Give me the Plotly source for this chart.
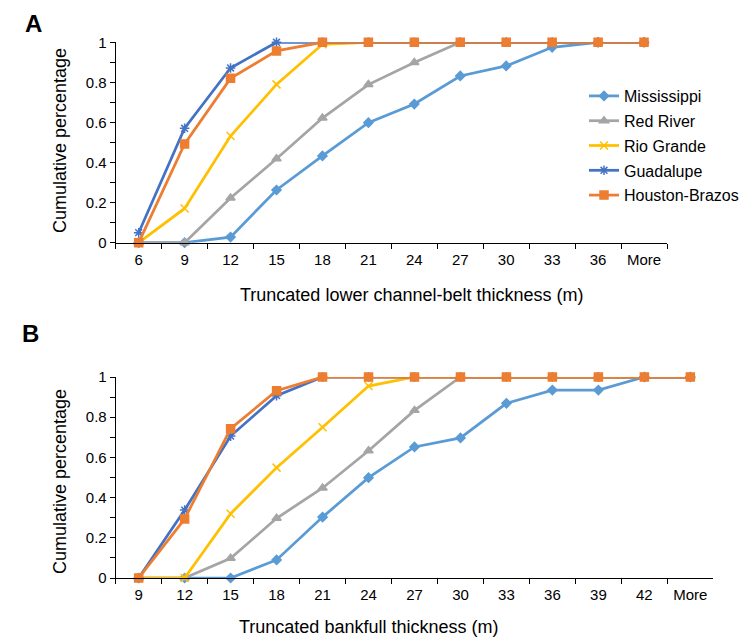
import plotly.graph_objects as go

W, H = 741, 638

cats_a = ["6", "9", "12", "15", "18", "21", "24", "27", "30", "33", "36", "More"]
cats_b = ["9", "12", "15", "18", "21", "24", "27", "30", "33", "36", "39", "42", "More"]

series_names = ["Mississippi", "Red River", "Rio Grande", "Guadalupe", "Houston-Brazos"]

a_mississippi = [0, 0, 0.028, 0.263, 0.433, 0.599, 0.692, 0.832, 0.882, 0.975, 1, 1]
a_red_river = [0, 0, 0.223, 0.419, 0.622, 0.789, 0.899, 1, 1, 1, 1, 1]
a_rio_grande = [0, 0.171, 0.532, 0.79, 0.99, 1, 1, 1, 1, 1, 1, 1]
a_guadalupe = [0.05, 0.571, 0.872, 1, 1, 1, 1, 1, 1, 1, 1, 1]
a_houston = [0, 0.493, 0.82, 0.957, 1, 1, 1, 1, 1, 1, 1, 1]

b_mississippi = [0, 0, 0, 0.09, 0.303, 0.499, 0.652, 0.697, 0.869, 0.935, 0.935, 1, 1]
b_red_river = [0, 0, 0.098, 0.297, 0.448, 0.633, 0.834, 1, 1, 1, 1, 1, 1]
b_rio_grande = [0, 0, 0.32, 0.549, 0.75, 0.955, 1, 1, 1, 1, 1, 1, 1]
b_guadalupe = [0, 0.338, 0.706, 0.907, 1, 1, 1, 1, 1, 1, 1, 1, 1]
b_houston = [0, 0.294, 0.743, 0.932, 1, 1, 1, 1, 1, 1, 1, 1, 1]

colors = ["#5B9BD5", "#A5A5A5", "#FFC000", "#4472C4", "#ED7D31"]
symbols = ["diamond", "triangle-up", "x-thin-open", "asterisk-open", "square"]
msizes = [7, 8, 8, 8, 8]

a_data = [a_mississippi, a_red_river, a_rio_grande, a_guadalupe, a_houston]
b_data = [b_mississippi, b_red_river, b_rio_grande, b_guadalupe, b_houston]

FONT = "Liberation Sans, Arial, sans-serif"

fig = go.Figure()
for i, name in enumerate(series_names):
    mk = dict(symbol=symbols[i], size=msizes[i], color=colors[i],
              line=dict(color=colors[i], width=1.5))
    fig.add_trace(go.Scatter(x=cats_a, y=a_data[i], name=name, mode="lines+markers",
                             line=dict(color=colors[i], width=2.75), marker=mk,
                             xaxis="x", yaxis="y", cliponaxis=False,
                             legendgroup=name, showlegend=True))
for i, name in enumerate(series_names):
    mk = dict(symbol=symbols[i], size=msizes[i], color=colors[i],
              line=dict(color=colors[i], width=1.5))
    fig.add_trace(go.Scatter(x=cats_b, y=b_data[i], name=name, mode="lines+markers",
                             line=dict(color=colors[i], width=2.75), marker=mk,
                             xaxis="x2", yaxis="y2", cliponaxis=False,
                             legendgroup=name, showlegend=False))

xl = 115.7 / W
ya_top, ya_bot = 1 - 42.3 / H, 1 - 242.7 / H
yb_top, yb_bot = 1 - 377 / H, 1 - 578 / H

xcommon = dict(type="category", showline=True, linecolor="black", linewidth=1,
               ticks="outside", ticklen=5, tickcolor="black", tickson="boundaries",
               showgrid=False, zeroline=False, automargin=False, ticklabelstandoff=3,
               tickfont=dict(size=15, color="black"))
ycommon = dict(range=[0, 1], dtick=0.2, showline=True, linecolor="black", linewidth=1,
               ticks="outside", ticklen=5, tickcolor="black", showgrid=False,
               zeroline=False, automargin=False, tickfont=dict(size=15, color="black"),
               minor=dict(dtick=0.1, ticks="outside", ticklen=5, tickcolor="black"))

fig.update_layout(
    width=W, height=H,
    margin=dict(l=0, r=0, t=0, b=0, autoexpand=False),
    paper_bgcolor="white", plot_bgcolor="white",
    font=dict(family=FONT, color="black"),
    xaxis=dict(domain=[xl, 667 / W], anchor="y", range=[-0.5, 11.5], **xcommon),
    yaxis=dict(domain=[ya_bot, ya_top], anchor="x", **ycommon),
    xaxis2=dict(domain=[xl, 713.3 / W], anchor="y2", range=[-0.5, 12.5], **xcommon),
    yaxis2=dict(domain=[yb_bot, yb_top], anchor="x2", **ycommon),
    legend=dict(x=584 / W, y=1 - 79 / H, xanchor="left", yanchor="top",
                font=dict(size=16, color="black"), bgcolor="rgba(0,0,0,0)",
                tracegroupgap=1, itemwidth=30),
    showlegend=True,
)

ann = [
    dict(text="<b>A</b>", x=23 / W, y=1 - 23 / H, xanchor="left", yanchor="middle", font=dict(size=24)),
    dict(text="<b>B</b>", x=20 / W, y=1 - 333 / H, xanchor="left", yanchor="middle", font=dict(size=24)),
    dict(text="Truncated lower channel-belt thickness (m)", x=411 / W, y=1 - 295 / H,
         xanchor="center", yanchor="middle", font=dict(size=18)),
    dict(text="Truncated bankfull thickness (m)", x=368 / W, y=1 - 627 / H,
         xanchor="center", yanchor="middle", font=dict(size=18)),
    dict(text="Cumulative percentage", x=60 / W, y=1 - 141 / H, textangle=-90,
         xanchor="center", yanchor="middle", font=dict(size=18)),
    dict(text="Cumulative percentage", x=60 / W, y=1 - 482 / H, textangle=-90,
         xanchor="center", yanchor="middle", font=dict(size=18)),
]
for a in ann:
    a.update(xref="paper", yref="paper", showarrow=False)
    a["font"].update(family=FONT, color="black")
fig.update_layout(annotations=ann)

fig.write_html(
    "out.html",
    config={"responsive": False, "displayModeBar": False},
    post_script="document.body.style.margin='0';document.body.style.padding='0';"
                "document.body.style.overflow='hidden';",
)
